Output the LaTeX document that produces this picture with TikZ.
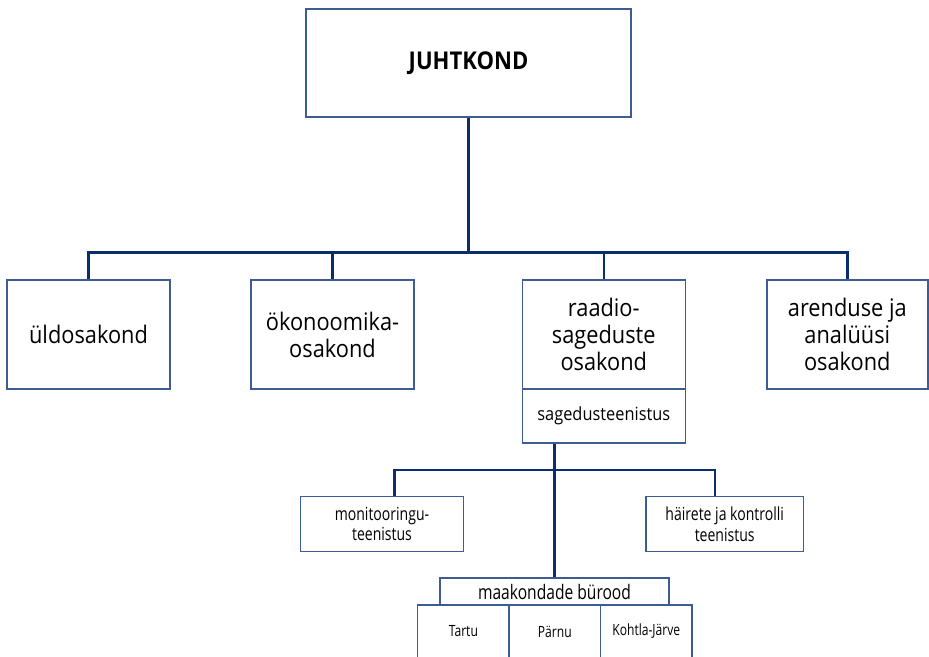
\documentclass[tikz,border=0pt]{standalone}
\usepackage{fontspec}
\setmainfont{Open Sans}[FakeStretch=0.9]
\newfontfamily\condfont{Open Sans}[FakeStretch=0.78]
\definecolor{navy}{RGB}{8,46,110}
\definecolor{boxblue}{RGB}{62,92,148}
\begin{document}
\begin{tikzpicture}[x=1pt,y=-1pt,
  box/.style={draw=boxblue,line width=1.4pt,rectangle,inner sep=0pt,align=center,fill=white},
  big/.style={box,font=\fontsize{24.2}{27}\selectfont},
  small/.style={box,font=\condfont\fontsize{18}{20.5}\selectfont},
  conn/.style={draw=navy,line width=2.4pt,line join=miter}]
\useasboundingbox (0,0) rectangle (929,656);
\clip (0,0) rectangle (929,656);
\coordinate (bus1) at (468.5,252.5);
\coordinate (b2l) at (394.3,470);
\coordinate (b2r) at (715,470);
% nodes
\node[big,minimum width=325pt,minimum height=108pt,font=\bfseries\fontsize{24.5}{27}\selectfont] (top) at (468.5,63) {JUHTKOND};
\node[big,minimum width=163pt,minimum height=109pt] (uld) at (88.5,334.5) {üldosakond};
\node[big,minimum width=163pt,minimum height=109pt] (oko) at (332.5,334.5) {ökonoomika-\\osakond};
\node[big,minimum width=163pt,minimum height=109pt] (rad) at (603.8,334.5) {raadio-\\sageduste\\osakond};
\node[box,minimum width=163pt,minimum height=54pt,font=\fontsize{18.2}{20}\selectfont] (sag) at (603.8,416) {sagedusteenistus};
\node[big,minimum width=161pt,minimum height=109pt] (are) at (847.3,334.5) {arenduse ja\\analüüsi\\osakond};
\node[small,minimum width=162.6pt,minimum height=54.6pt] (mon) at (382,524) {monitooringu-\\teenistus};
\node[small,minimum width=157.3pt,minimum height=54.6pt] (hai) at (724.7,524) {häirete ja kontrolli\\teenistus};
\node[small,minimum width=229pt,minimum height=27pt,font=\condfont\fontsize{20}{22}\selectfont] (maa) at (554.5,591.5) {maakondade bürood};
\node[small,minimum width=91.3pt,minimum height=53pt,font=\condfont\fontsize{15.5}{18}\selectfont] (tar) at (463.4,631.5) {Tartu};
\node[small,minimum width=91.7pt,minimum height=53pt,font=\condfont\fontsize{15.5}{18}\selectfont] (par) at (554.8,631.5) {Pärnu};
\node[small,minimum width=91.3pt,minimum height=53pt,font=\condfont\fontsize{15.5}{18}\selectfont] (koh) at (646.3,631.5) {Kohtla-Järve};
% connectors
\draw[conn] (top.south) -- (bus1);
\draw[conn] (uld.north) |- (bus1) -| (are.north);
\draw[conn] (oko.north) -- (oko.north |- bus1);
\draw[conn] (rad.north) -- (rad.north |- bus1);
\draw[conn] (maa.north |- sag.south) -- (maa.north);
\draw[conn] (b2l |- mon.north) -- (b2l) -- (b2r) -- (b2r |- hai.north);
\end{tikzpicture}
\end{document}
